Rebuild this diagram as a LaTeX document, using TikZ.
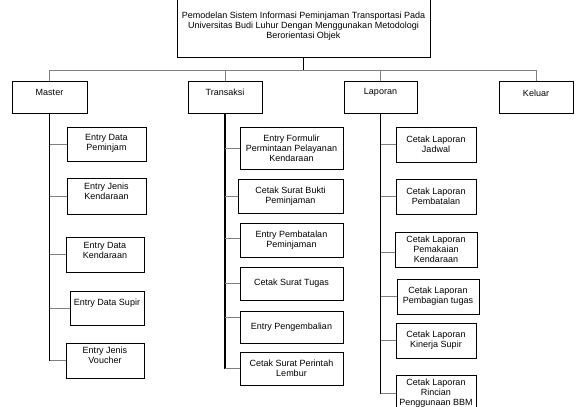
\documentclass[tikz,border=0pt]{standalone}
\usepackage{fontspec}
\setmainfont{Liberation Sans}
\begin{document}
\begin{tikzpicture}[x=1pt,y=-1pt,
  box/.style={draw=black, line width=0.75pt, rectangle, inner sep=0pt, align=center,
    font=\fontsize{9}{10}\selectfont},
  sz/.style 2 args={minimum width=#1pt, minimum height=#2pt},
  lbl/.style={align=center, inner sep=0pt, font=\fontsize{9}{10}\selectfont},
  tx/.style 2 args={label={[lbl,yshift=#1pt]center:{#2}}},
  trunk/.style={draw=black, line width=1.5pt},
  conn/.style={draw=black!50, line width=0.8pt}]
\fill[white] (0,0) rectangle (576,407);
\useasboundingbox (0,0) rectangle (576,407);

% root
\node[box, sz={253}{62}] (top) at (303.5,26) {Pemodelan Sistem Informasi Peminjaman Transportasi Pada\\Universitas Budi Luhur Dengan Menggunakan Metodologi\\Berorientasi Objek};

% level 1
\node[box, sz={75}{32}, tx={4.5}{Master}] (master) at (49.5,97) {};
\node[box, sz={74}{32}, tx={4.5}{Transaksi}] (trans) at (225,97) {};
\node[box, sz={73}{32}, tx={4.5}{Laporan}] (lap) at (380.5,97) {};
\node[box, sz={74}{32}, tx={4}{Keluar}] (kel) at (536,97) {};

\coordinate (bus) at (0,70);
\draw[trunk] (top.south) -- (top.south |- bus);
\draw[conn] (master.north |- bus) -- (kel.north |- bus);
\foreach \n in {master,trans,lap,kel} \draw[conn] (\n.north |- bus) -- (\n.north);

% Master children
\node[box, sz={79}{34}, tx={1}{Entry Data\\Peminjam}] (m1) at (106.5,144) {};
\node[box, sz={79}{36}, tx={4.5}{Entry Jenis\\Kendaraan}] (m2) at (106.5,196) {};
\node[box, sz={78}{35}, tx={4.5}{Entry Data\\Kendaraan}] (m3) at (105,254.5) {};
\node[box, sz={74}{34}, tx={5}{Entry Data Supir}] (m4) at (107,308) {};
\node[box, sz={78}{35}, tx={5}{Entry Jenis\\Voucher}] (m5) at (105,360.5) {};

\draw[trunk] (master.south) -- (master.south |- m5.west);
\foreach \n in {m1,m2,m3,m4,m5} \draw[conn] (master.south |- \n.west) -- (\n.west);

% Transaksi children
\node[box, sz={103}{42}] (t1) at (291.5,148) {Entry Formulir\\Permintaan Pelayanan\\Kendaraan};
\node[box, sz={105}{34}] (t2) at (290.5,196) {Cetak Surat Bukti\\Peminjaman};
\node[box, sz={103}{34}] (t3) at (291.5,240) {Entry Pembatalan\\Peminjaman};
\node[box, sz={103}{33}] (t4) at (291.5,283.5) {Cetak Surat Tugas};
\node[box, sz={103}{32}] (t5) at (291.5,327) {Entry Pengembalian};
\node[box, sz={103}{33}] (t6) at (291.5,368.5) {Cetak Surat Perintah\\Lembur};

\coordinate (t3c) at ([yshift=2pt]t3.west);
\coordinate (t5c) at ([yshift=10pt]t5.west);
\draw[trunk] (trans.south) -- (trans.south |- t6.west);
\foreach \n in {t1,t2,t3c,t4,t5c,t6} \draw[conn] (trans.south |- \n) -- (\n);

% Laporan children
\node[box, sz={80}{35}] (l1) at (436,144.5) {Cetak Laporan\\Jadwal};
\node[box, sz={80}{35}] (l2) at (436,196.5) {Cetak Laporan\\Pembatalan};
\node[box, sz={82}{35}] (l3) at (436,249.5) {Cetak Laporan\\Pemakaian\\Kendaraan};
\node[box, sz={82}{35}] (l4) at (438,296.5) {Cetak Laporan\\Pembagian tugas};
\node[box, sz={80}{35}] (l5) at (436,340.5) {Cetak Laporan\\Kinerja Supir};
\node[box, sz={80}{37}] (l6) at (436,393.5) {Cetak Laporan\\Rincian\\Penggunaan BBM};

\coordinate (l3c) at ([yshift=-2.5pt]l3.west);
\draw[trunk] (lap.south) -- (lap.south |- l6.west);
\foreach \n in {l1,l2,l3c,l4,l5,l6} \draw[conn] (lap.south |- \n) -- (\n);
\end{tikzpicture}
\end{document}
